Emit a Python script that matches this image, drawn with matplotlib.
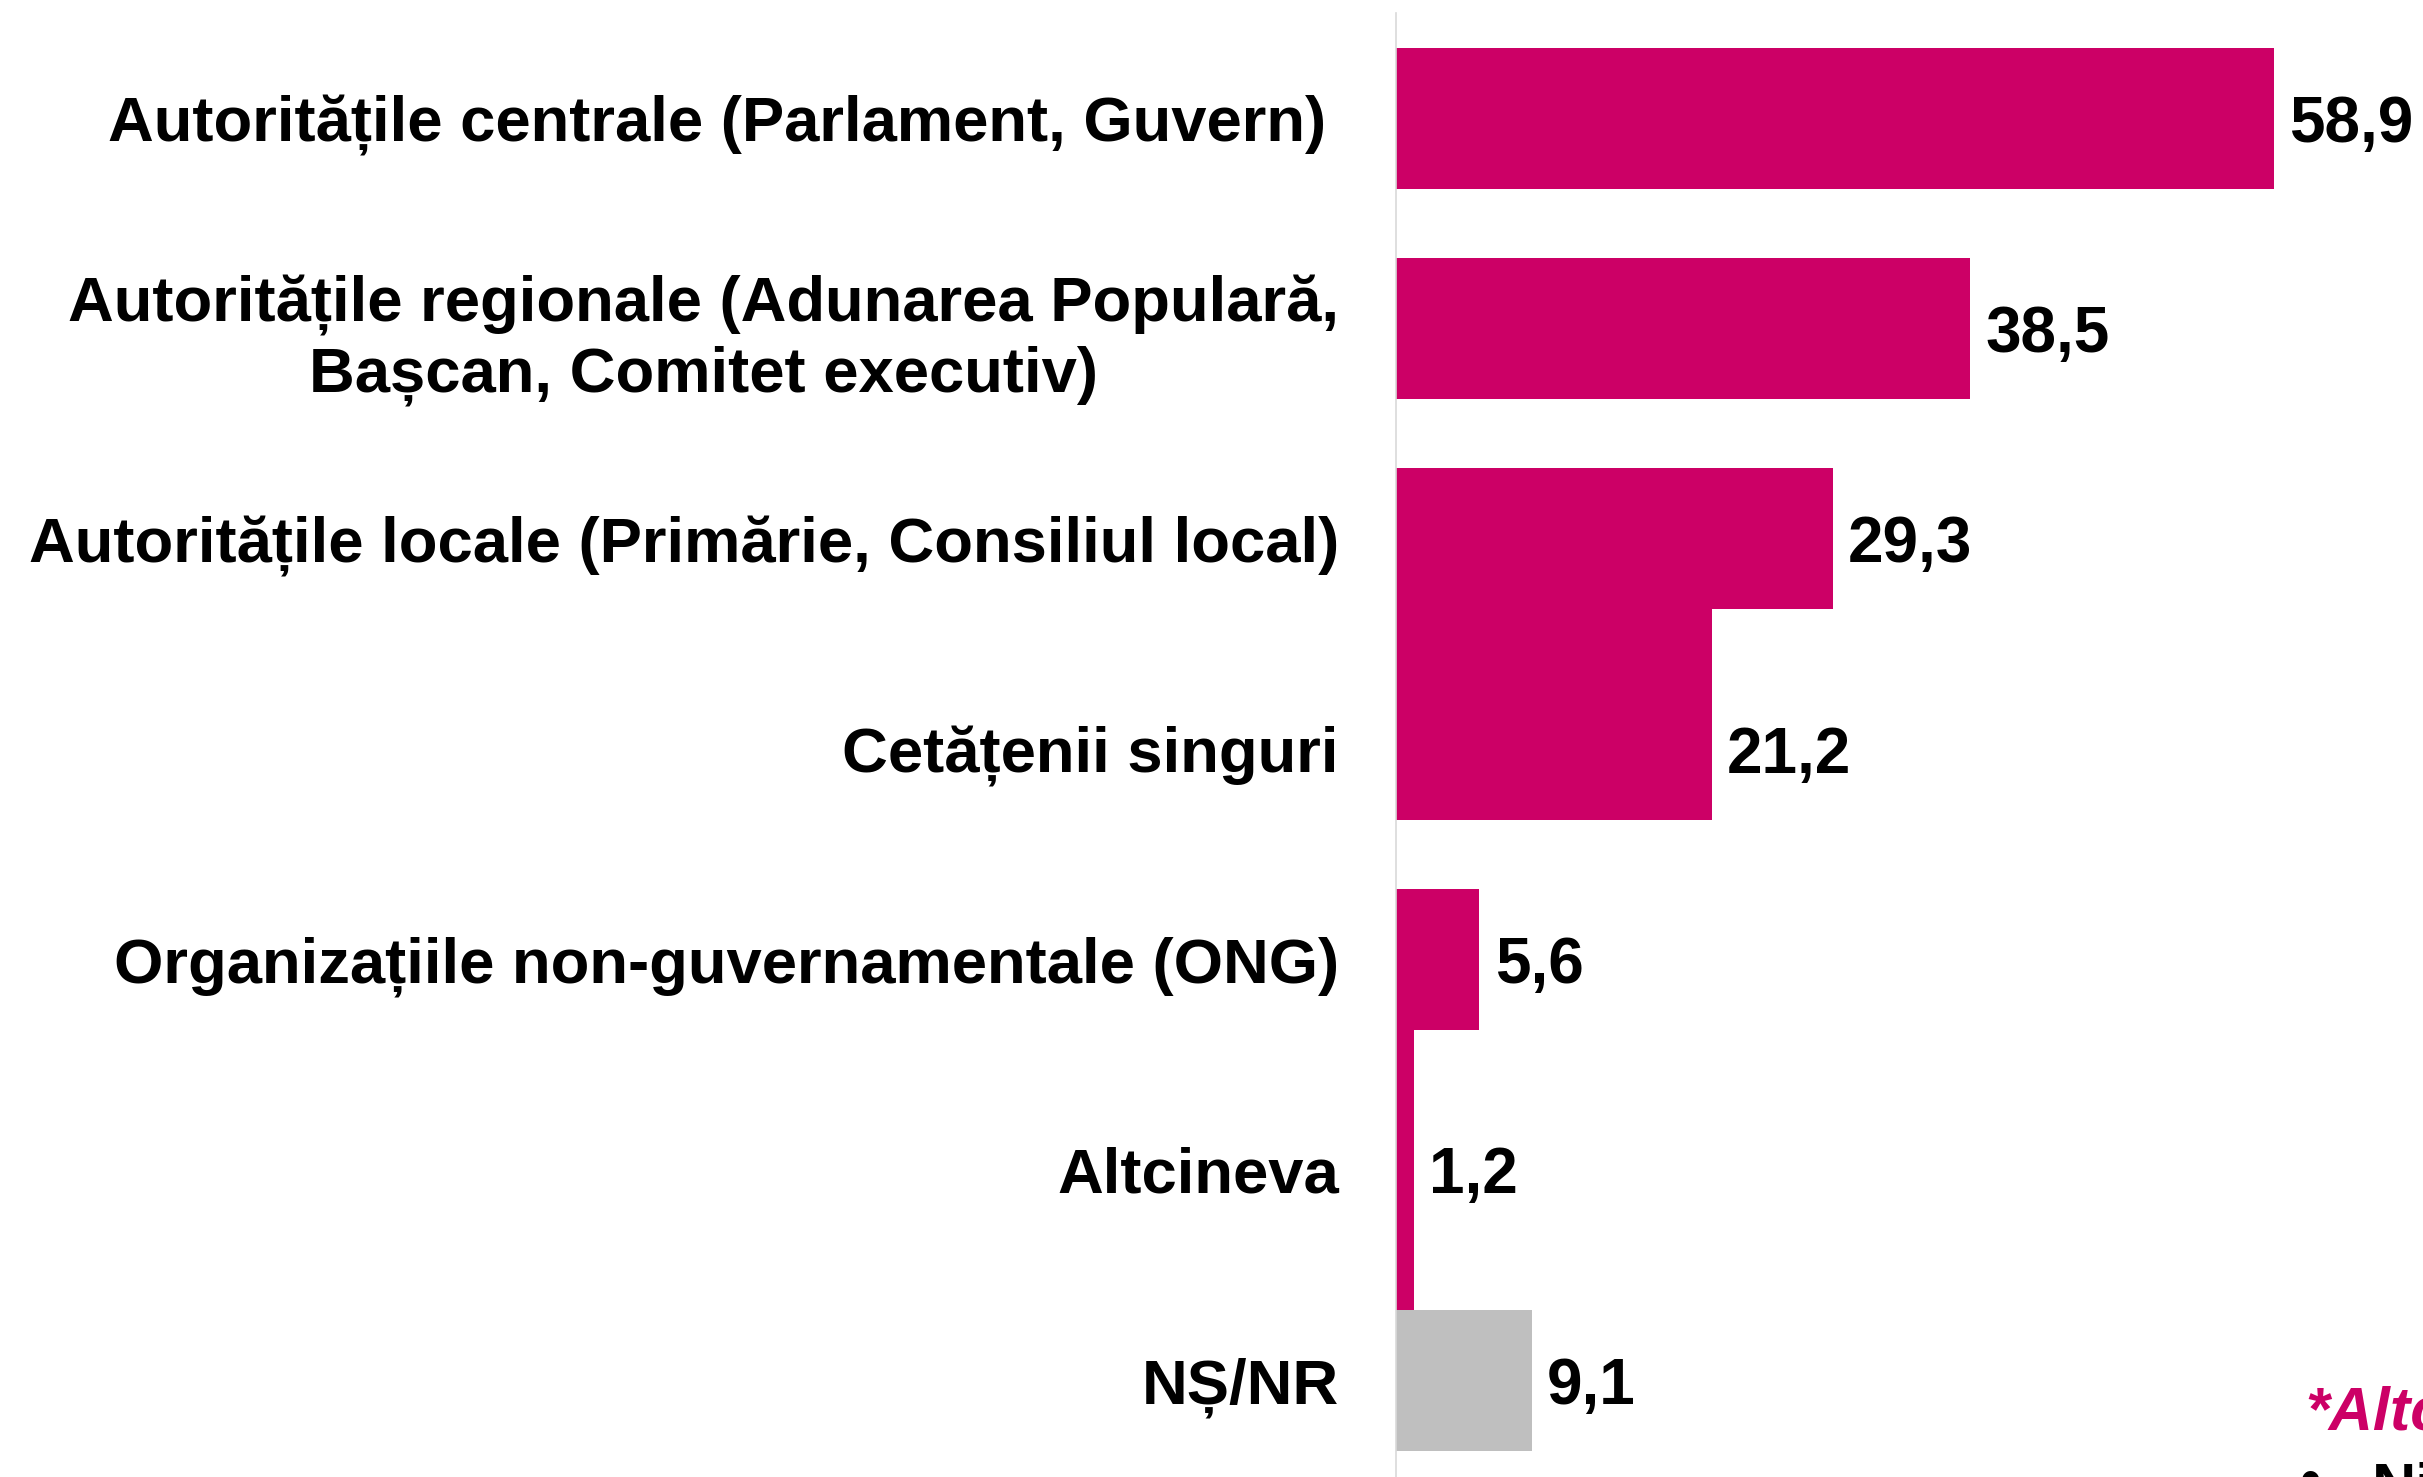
import numpy as np
import matplotlib.pyplot as plt

plt.rcParams['font.family'] = ['Liberation Sans', 'DejaVu Sans']

categories = [
    "Autoritățile centrale (Parlament, Guvern)\u2009",
    "Autoritățile regionale (Adunarea Populară,\nBașcan, Comitet executiv)",
    "Autoritățile locale (Primărie, Consiliul local)",
    "Cetățenii singuri",
    "Organizațiile non-guvernamentale (ONG)",
    "Altcineva",
    "NȘ/NR",
]
values = [58.9, 38.5, 29.3, 21.2, 5.6, 1.2, 9.1]
note_title = "*Altcineva:"
note_item = "Nimeni"

magenta = "#CC0066"
grey = "#BFBFBF"
colors = [magenta] * 6 + [grey]

fig = plt.figure(figsize=(24.23, 14.77), dpi=100)
ax = fig.add_axes([0.5761, 0.0, 0.4239, 0.9912])

y = np.arange(len(values), dtype=float)
bar_h = 0.67
tops = y - bar_h / 2
bottoms = y + bar_h / 2
# some bars in the original are stretched to touch their neighbours
tops[3] = bottoms[2]
tops[5] = bottoms[4]
bottoms[5] = tops[6]

ax.barh((tops + bottoms) / 2, values, height=bottoms - tops, color=colors)

for yi, v in zip(y, values):
    ax.annotate(f"{v:.1f}".replace('.', ','), (v, yi), xytext=(11, 0),
                textcoords='offset points', va='center_baseline', ha='left',
                fontsize=46, fontweight='bold', color='black')

ax.set_xlim(0, 68.9)
ax.set_ylim(6.46, -0.5)
ax.set_xticks([])
ax.set_yticks(y, categories)
ax.tick_params(axis='y', length=0, pad=41)
for lbl in ax.get_yticklabels():
    lbl.set_fontsize(45.6)
    lbl.set_fontweight('bold')
    lbl.set_multialignment('center')

for s in ['top', 'right', 'bottom']:
    ax.spines[s].set_visible(False)
ax.spines['left'].set_color('#d9d9d9')
ax.spines['left'].set_linewidth(1.2)

fig.text(2305 / 2423, 1 - 1429 / 1477, note_title, fontsize=44, fontweight='bold',
         fontstyle='italic', color=magenta, ha='left', va='baseline')
fig.text(2300 / 2423, 1 - 1500 / 1477, "•", fontsize=44, color='black',
         ha='left', va='baseline')
fig.text(2372 / 2423, 1 - 1505 / 1477, note_item, fontsize=44, fontweight='bold',
         color='black', ha='left', va='baseline')

fig.savefig('out.png', dpi=100)
